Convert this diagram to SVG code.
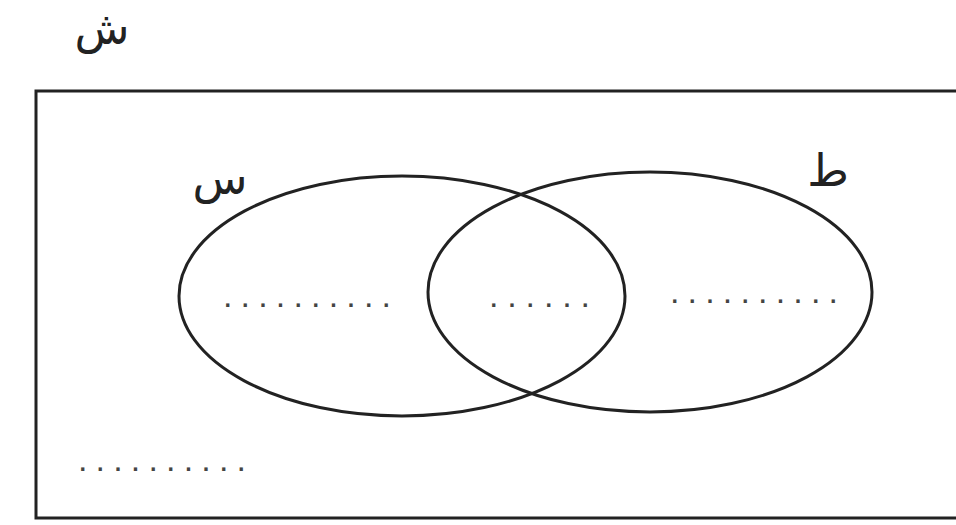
<svg xmlns="http://www.w3.org/2000/svg" width="956" height="525" viewBox="0 0 956 525">
<style>
.lbl{font-family:"DejaVu Sans","Noto Sans",sans-serif;font-size:45px;fill:#222}
.dots{font-family:"Liberation Sans",sans-serif;font-size:34px;fill:#444}
.sh{fill:none;stroke:#222;stroke-width:3}
</style>
<rect width="956" height="525" fill="#fff"/>
<g id="universe">
<path class="sh" d="M 970 91 L 36 91 L 36 518 L 970 518"/>
<text class="lbl" x="102" y="44" text-anchor="middle">ش</text>
<text class="dots" x="78" y="471" textLength="168" lengthAdjust="spacing">..........</text>
</g>
<g id="setS">
<ellipse class="sh" cx="402" cy="296" rx="223" ry="120"/>
<text class="lbl" x="220" y="194" text-anchor="middle">س</text>
<text class="dots" x="223" y="307" textLength="168" lengthAdjust="spacing">..........</text>
</g>
<g id="setT">
<ellipse class="sh" cx="650" cy="292" rx="222" ry="120"/>
<text class="lbl" x="828" y="186" text-anchor="middle">ط</text>
<text class="dots" x="670" y="303" textLength="168" lengthAdjust="spacing">..........</text>
</g>
<g id="intersection">
<text class="dots" x="489" y="307" textLength="101" lengthAdjust="spacing">......</text>
</g>
</svg>
